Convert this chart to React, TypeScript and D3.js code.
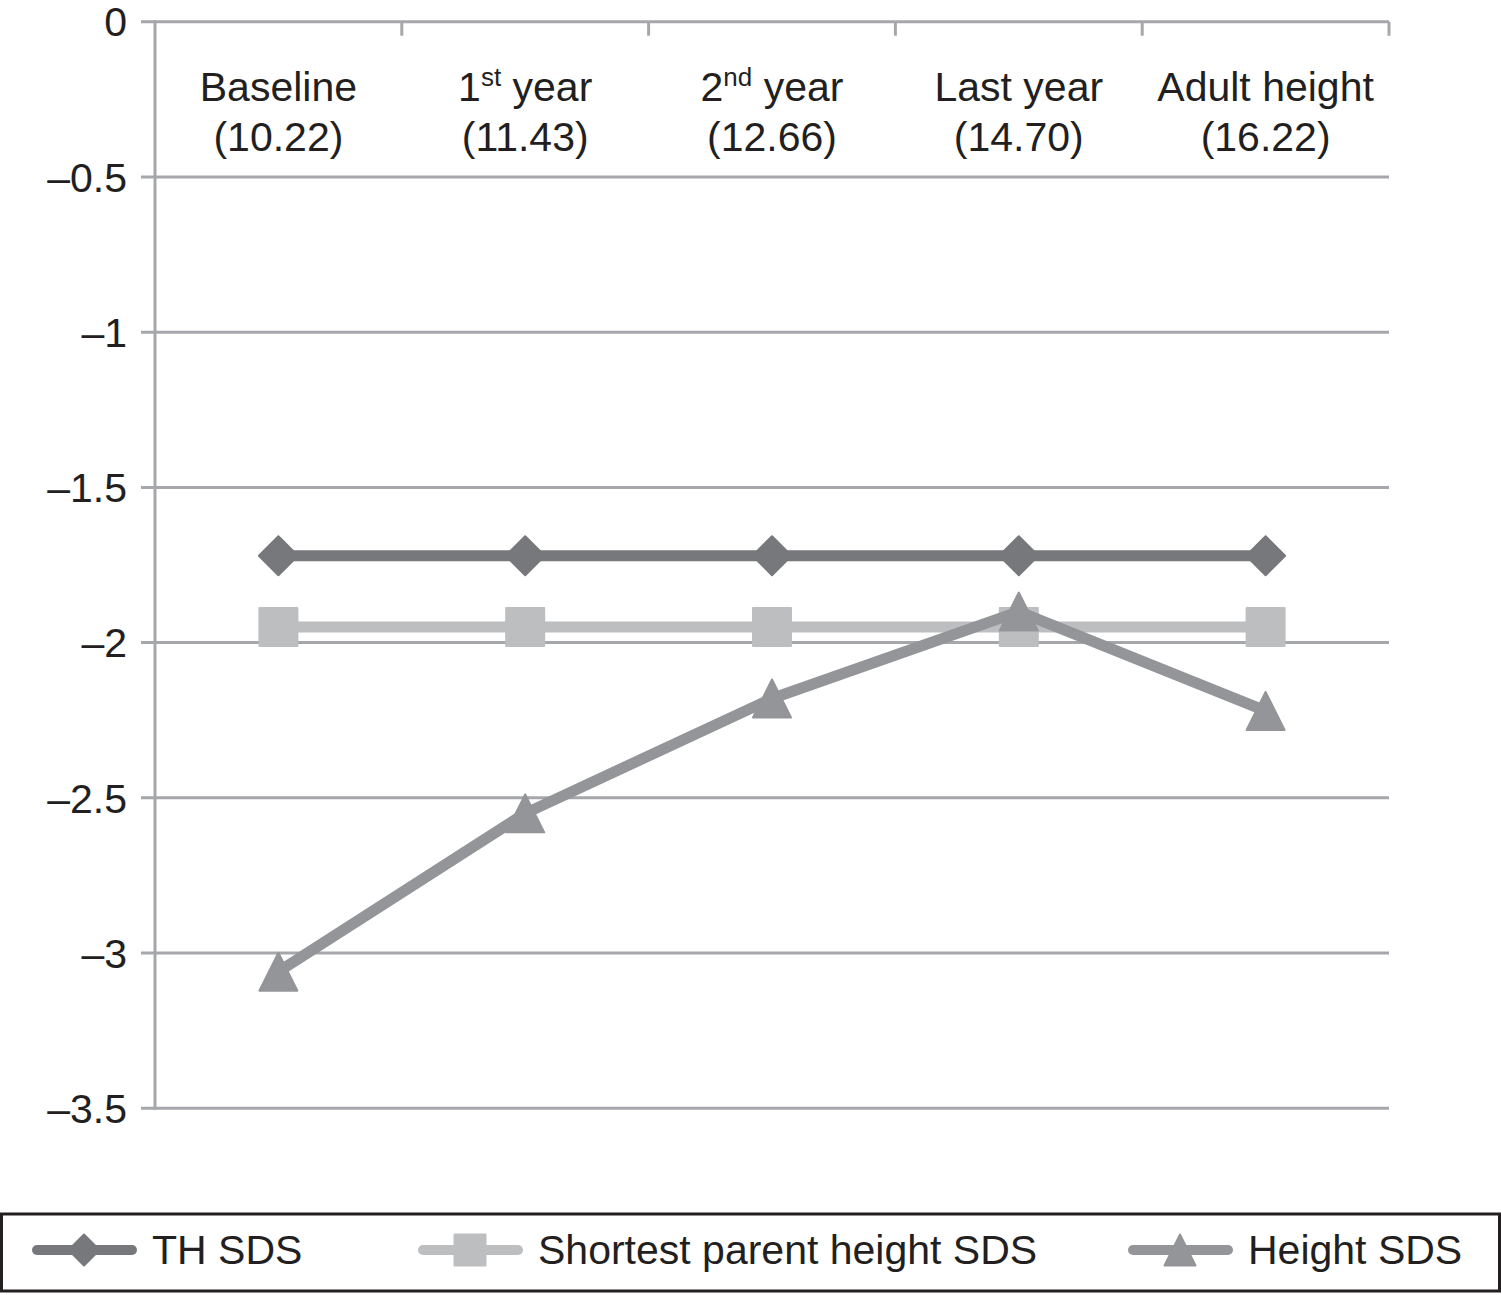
import React, { useRef, useEffect } from 'react';
import * as d3 from 'd3';

// categories (x) and the age under each one
const categories = ['Baseline', '1st year', '2nd year', 'Last year', 'Adult height'];
const ages = ['10.22', '11.43', '12.66', '14.70', '16.22'];

// series values (SDS)
const thSds = [-1.72, -1.72, -1.72, -1.72, -1.72];
const shortestParentSds = [-1.95, -1.95, -1.95, -1.95, -1.95];
const heightSds = [-3.06, -2.55, -2.18, -1.9, -2.22];

const yTicks = [0, -0.5, -1, -1.5, -2, -2.5, -3, -3.5];
const yTickLabels = ['0', '\u20130.5', '\u20131', '\u20131.5', '\u20132', '\u20132.5', '\u20133', '\u20133.5'];

interface Series {
  name: string;
  values: number[];
  color: string;
  marker: 'diamond' | 'square' | 'triangle';
}

const series: Series[] = [
  { name: 'TH SDS', values: thSds, color: '#77787b', marker: 'diamond' },
  { name: 'Shortest parent height SDS', values: shortestParentSds, color: '#bcbec0', marker: 'square' },
  { name: 'Height SDS', values: heightSds, color: '#939598', marker: 'triangle' },
];

const WIDTH = 1501;
const HEIGHT = 1295;
const FONT = 'Liberation Sans, Arial, Helvetica, sans-serif';
const TEXT = '#231f20';
const GRID = '#a6a7aa';

const markerPath = (kind: Series['marker'], s: number) => {
  const h = s / 2;
  if (kind === 'diamond') return `M0,${-h}L${h},0L0,${h}L${-h},0Z`;
  if (kind === 'square') return `M${-h},${-h}H${h}V${h}H${-h}Z`;
  return `M0,${-h}L${h},${h}L${-h},${h}Z`;
};

const App: React.FC = () => {
  const svgRef = useRef<SVGSVGElement | null>(null);

  useEffect(() => {
    if (!svgRef.current) return;
    const svg = d3.select(svgRef.current);
    svg.selectAll('*').remove();

    const left = 155;
    const right = 1389;
    const top = 21.7;
    const bottom = 1108.3;

    const x = d3.scaleBand<string>().domain(categories).range([left, right]);
    const y = d3.scaleLinear().domain([0, -3.5]).range([top, bottom]);
    const cx = (c: string) => (x(c) ?? 0) + x.bandwidth() / 2;

    // horizontal gridlines (incl. top axis and bottom line)
    svg
      .append('g')
      .selectAll('line')
      .data(yTicks)
      .join('line')
      .attr('x1', left - 14)
      .attr('x2', right)
      .attr('y1', d => y(d))
      .attr('y2', d => y(d))
      .attr('stroke', GRID)
      .attr('stroke-width', 3);

    // vertical axis
    svg
      .append('line')
      .attr('x1', left)
      .attr('x2', left)
      .attr('y1', top - 1.5)
      .attr('y2', bottom + 1.5)
      .attr('stroke', GRID)
      .attr('stroke-width', 3);

    // category ticks on the top axis
    const bounds = categories.map(c => (x(c) ?? 0) + x.bandwidth()).concat([]);
    svg
      .append('g')
      .selectAll('line')
      .data(bounds)
      .join('line')
      .attr('x1', d => d)
      .attr('x2', d => d)
      .attr('y1', top)
      .attr('y2', top + 14)
      .attr('stroke', GRID)
      .attr('stroke-width', 3);

    // y tick labels
    svg
      .append('g')
      .selectAll('text')
      .data(yTicks)
      .join('text')
      .attr('x', 127)
      .attr('y', d => y(d))
      .attr('dy', '0.36em')
      .attr('text-anchor', 'end')
      .attr('font-family', FONT)
      .attr('font-size', 41)
      .attr('fill', TEXT)
      .text((d, i) => yTickLabels[i]);

    // category labels
    const catG = svg.append('g').attr('font-family', FONT).attr('fill', TEXT).attr('text-anchor', 'middle');
    categories.forEach((c, i) => {
      const t = catG.append('text').attr('x', cx(c)).attr('y', 101).attr('font-size', 41);
      const m = c.match(/^(\d+)(st|nd|rd|th)(.*)$/);
      if (m) {
        t.append('tspan').text(m[1]);
        t.append('tspan').attr('font-size', 26).attr('dy', -15).text(m[2]);
        t.append('tspan').attr('dy', 15).text(m[3]);
      } else {
        t.text(c);
      }
      catG
        .append('text')
        .attr('x', cx(c))
        .attr('y', 151)
        .attr('font-size', 41)
        .text(`(${ages[i]})`);
    });

    // series lines and markers
    const line = d3
      .line<number>()
      .x((d, i) => cx(categories[i]))
      .y(d => y(d));

    series.forEach(s => {
      const g = svg.append('g');
      g.append('path')
        .datum(s.values)
        .attr('fill', 'none')
        .attr('stroke', s.color)
        .attr('stroke-width', 11)
        .attr('stroke-linejoin', 'round')
        .attr('d', line);
      g.selectAll('path.marker')
        .data(s.values)
        .join('path')
        .attr('class', 'marker')
        .attr('transform', (d, i) => `translate(${cx(categories[i])},${y(d)})`)
        .attr('d', markerPath(s.marker, s.marker === 'diamond' ? 39 : 38))
        .attr('fill', s.color)
        .attr('stroke', s.color)
        .attr('stroke-width', 2)
        .attr('stroke-linejoin', 'round');
    });

    // legend
    const legend = svg.append('g');
    legend
      .append('rect')
      .attr('x', 1.5)
      .attr('y', 1214)
      .attr('width', WIDTH - 3)
      .attr('height', 77)
      .attr('fill', 'white')
      .attr('stroke', TEXT)
      .attr('stroke-width', 3);

    const legendX = [32, 418, 1128];
    const legendY = 1250;
    series.forEach((s, i) => {
      const x0 = legendX[i];
      legend
        .append('line')
        .attr('x1', x0 + 5)
        .attr('x2', x0 + 100)
        .attr('y1', legendY)
        .attr('y2', legendY)
        .attr('stroke', s.color)
        .attr('stroke-width', 10)
        .attr('stroke-linecap', 'round');
      legend
        .append('path')
        .attr('transform', `translate(${x0 + 52},${legendY})`)
        .attr('d', markerPath(s.marker, 31))
        .attr('fill', s.color)
        .attr('stroke', s.color)
        .attr('stroke-width', 2)
        .attr('stroke-linejoin', 'round');
      legend
        .append('text')
        .attr('x', x0 + 120)
        .attr('y', 1264)
        .attr('font-family', FONT)
        .attr('font-size', 41)
        .attr('fill', TEXT)
        .text(s.name);
    });
  }, []);

  return (
    <svg
      ref={svgRef}
      width={WIDTH}
      height={HEIGHT}
      style={{ position: 'absolute', left: 0, top: 0, background: 'white' }}
    />
  );
};

export default App;
